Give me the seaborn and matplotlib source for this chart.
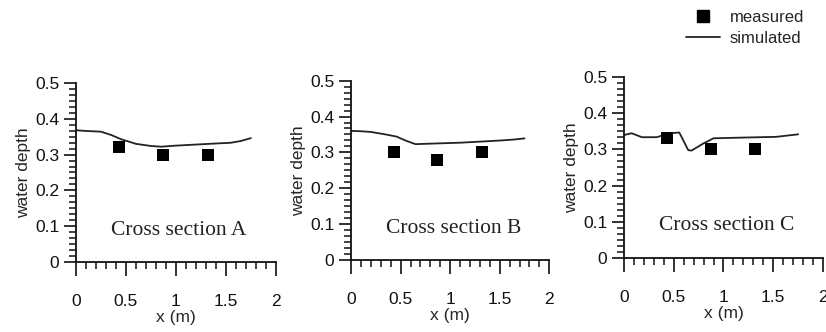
import numpy as np
import pandas as pd
import matplotlib
matplotlib.use("Agg")
import matplotlib.pyplot as plt
from matplotlib.ticker import MultipleLocator, AutoMinorLocator
from matplotlib.lines import Line2D
import seaborn as sns

sns.set_style("ticks")
plt.rcParams['font.family'] = ['Liberation Sans', 'DejaVu Sans']

# measured points
meas_x = [0.43, 0.87, 1.32]
meas_A = [0.32, 0.30, 0.30]
meas_B = [0.30, 0.28, 0.30]
meas_C = [0.333, 0.30, 0.30]

# simulated profiles
sim_A_x = [0.0, 0.1, 0.25, 0.35, 0.45, 0.6, 0.75, 0.85, 1.0, 1.2, 1.4, 1.55, 1.65, 1.75]
sim_A_y = [0.368, 0.366, 0.364, 0.355, 0.343, 0.330, 0.324, 0.322, 0.325, 0.328, 0.331, 0.333, 0.338, 0.346]
sim_B_x = [0.0, 0.1, 0.2, 0.35, 0.46, 0.55, 0.65, 0.87, 1.1, 1.3, 1.5, 1.65, 1.75]
sim_B_y = [0.360, 0.359, 0.357, 0.350, 0.344, 0.333, 0.323, 0.325, 0.327, 0.330, 0.333, 0.336, 0.339]
sim_C_x = [0.0, 0.077, 0.18, 0.33, 0.46, 0.556, 0.646, 0.68, 0.8, 0.9, 1.2, 1.53, 1.75]
sim_C_y = [0.340, 0.345, 0.334, 0.334, 0.345, 0.347, 0.298, 0.297, 0.317, 0.331, 0.333, 0.335, 0.342]

labels = ["Cross section A", "Cross section B", "Cross section C"]
x_ticks = [0, 0.5, 1, 1.5, 2]
x_tick_labels = ["0", "0.5", "1", "1.5", "2"]
y_ticks = [0, 0.1, 0.2, 0.3, 0.4, 0.5]
y_tick_labels = ["0", "0.1", "0.2", "0.3", "0.4", "0.5"]

fig = plt.figure(figsize=(8.26, 3.32), dpi=100)
positions = [
    [0.092, 0.211, 0.242, 0.539],
    [0.425, 0.217, 0.240, 0.540],
    [0.7554, 0.224, 0.241, 0.543],
]
sims = [(sim_A_x, sim_A_y), (sim_B_x, sim_B_y), (sim_C_x, sim_C_y)]
meas = [meas_A, meas_B, meas_C]

for i in range(3):
    ax = fig.add_axes(positions[i])
    sdf = pd.DataFrame({"x": sims[i][0], "y": sims[i][1]})
    mdf = pd.DataFrame({"x": meas_x, "y": meas[i]})
    sns.lineplot(data=sdf, x="x", y="y", ax=ax, color="#222222", linewidth=1.3, sort=False)
    sns.scatterplot(data=mdf, x="x", y="y", ax=ax, marker="s", s=70, color="black",
                    edgecolor="black", linewidth=0, zorder=3)
    ax.set_xlim(0, 2)
    ax.set_ylim(0, 0.5)
    ax.set_xticks(x_ticks)
    ax.set_xticklabels(x_tick_labels)
    ax.set_yticks(y_ticks)
    ax.set_yticklabels(y_tick_labels)
    ax.xaxis.set_minor_locator(AutoMinorLocator(5))
    ax.yaxis.set_minor_locator(AutoMinorLocator(6))
    for s in ["top", "right"]:
        ax.spines[s].set_visible(False)
    for s in ["left", "bottom"]:
        ax.spines[s].set_linewidth(1.3)
        ax.spines[s].set_color("#111111")
    ax.tick_params(axis="x", which="major", direction="out", length=10, width=1.2,
                   pad=13, labelsize=12.5, colors="#111111")
    ax.tick_params(axis="x", which="minor", direction="out", length=5, width=1.1, colors="#111111")
    ax.tick_params(axis="y", which="major", direction="out", length=9, width=1.2,
                   pad=3, labelsize=12.5, colors="#111111")
    ax.tick_params(axis="y", which="minor", direction="out", length=5, width=1.1, colors="#111111")
    ax.set_xlabel("x (m)", fontsize=12.5, labelpad=1)
    ax.set_ylabel("water depth", fontsize=12.5, labelpad=3)
    ax.text(1.03, 0.089, labels[i], ha="center", va="center",
            fontsize=15.5, family=["Liberation Serif", "DejaVu Serif"], color="#222222")

handles = [
    Line2D([], [], marker="s", linestyle="none", color="black", markersize=8),
    Line2D([], [], color="#222222", linewidth=1.3),
]
fig.legend(handles, ["measured", "simulated"], loc="upper left",
           bbox_to_anchor=(0.823, 0.99), frameon=False, fontsize=12,
           handlelength=2.0, handletextpad=0.6, labelspacing=0.35, borderaxespad=0)

fig.savefig("out.png", dpi=100)
